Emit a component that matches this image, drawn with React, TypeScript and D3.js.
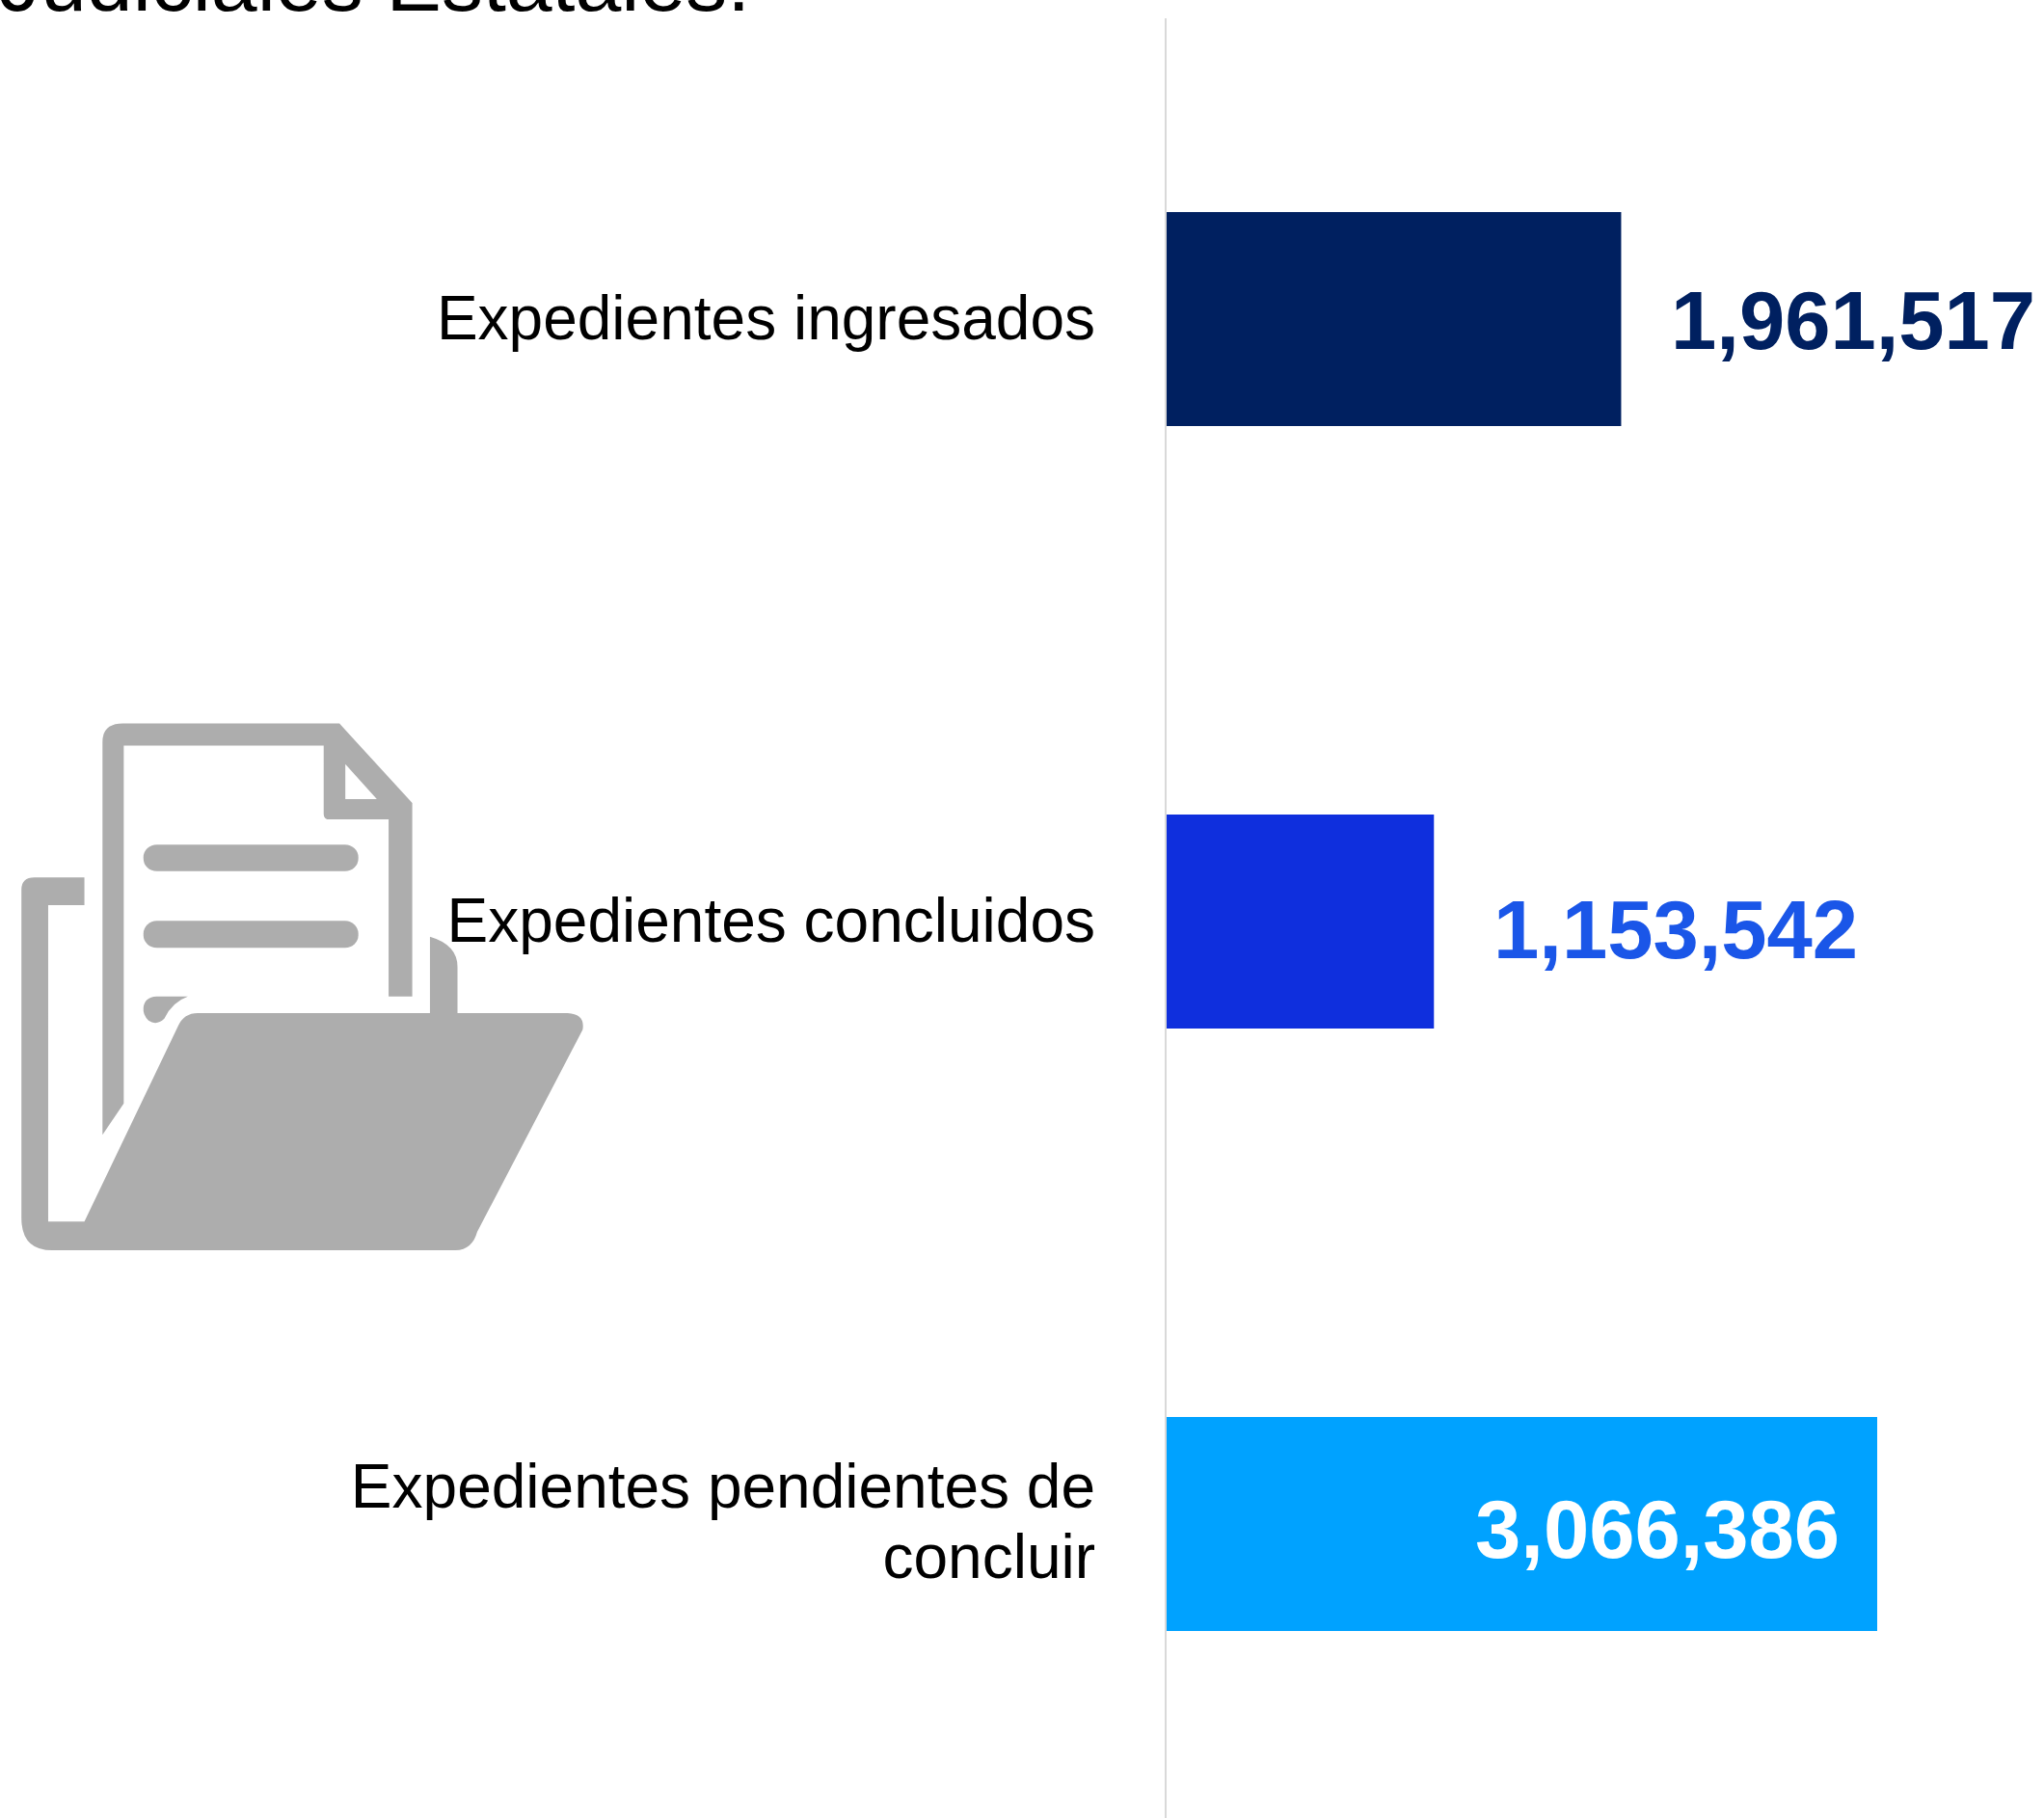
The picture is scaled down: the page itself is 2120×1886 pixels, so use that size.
import React from "react";
import * as d3 from "d3";

const categories = ["Expedientes ingresados", "Expedientes concluidos", "Expedientes pendientes de concluir"];
const labelLines = [["Expedientes ingresados"], ["Expedientes concluidos"], ["Expedientes pendientes de", "concluir"]];
const values = [1961517, 1153542, 3066386];
const barColors = ["#002060", "#0f2fdd", "#00a2ff"];
const valueColors = ["#002060", "#1a56e8", "#ffffff"];
const valueStart = [1733, 1549, 1530];
const valueShift = [31, 38, 35];

const width = 2120;
const height = 1886;
const font = "'Liberation Sans', Arial, sans-serif";
const iconColor = "#adadad";

const docPath =
	"M258 1195 L258 130 Q258 80 310 80 L860 80 L1045 295 L1045 820 L985 820 L985 340 L835 340 Q820 340 820 325 L820 140 L312 140 L312 1110 Z M875 190 L875 285 L955 285 Z";
const stubPath = "M362 850 Q365 822 395 820 L475 820 Q435 835 415 880 Q395 900 375 885 Q360 870 362 850 Z";
const folderPath =
	"M212 497 L85 497 Q52 497 52 530 L52 1420 Q52 1508 130 1508 L1155 1508 Q1198 1506 1210 1458 L1478 910 Q1485 868 1440 865 L1160 865 L1160 740 Q1160 680 1090 658 L1090 865 L500 865 Q465 865 450 900 L212 1430 L120 1430 L120 572 L212 572 Z";

export default function App() {
	const x = d3.scaleLinear().domain([0, d3.max(values) as number]).range([1210, 1947]);
	const y = d3.scaleBand().domain(categories).range([220, 1692]).paddingInner(0.6445).paddingOuter(0);
	const barH = Math.round(y.bandwidth());
	const top = (i: number) => Math.round(y(categories[i]) as number);

	return (
		<svg
			width={width}
			height={height}
			viewBox={`0 0 ${width} ${height}`}
			style={{ position: "absolute", left: 0, top: 0, background: "#fff" }}
			fontFamily={font}
		>
			<text x={-1} y={11} fontSize={86}>Judiciales Estatales:</text>

			<g transform="translate(1,720) scale(0.4082,0.3827)" fill={iconColor}>
				<path d={docPath} fillRule="evenodd" />
				<rect x={362} y={408} width={546} height={72} rx={34} />
				<rect x={362} y={615} width={546} height={73} rx={34} />
				<path d={stubPath} />
				<path d={folderPath} />
			</g>

			<line x1={1209} x2={1209} y1={19} y2={height} stroke="#d9d9d9" strokeWidth={2} />

			{values.map((v, i) => (
				<g key={categories[i]}>
					<rect x={x(0)} y={top(i)} width={x(v) - x(0)} height={barH} fill={barColors[i]} />
					<text
						x={1136}
						y={labelLines[i].length > 1 ? top(i) + 94 : top(i) + 132}
						textAnchor="end"
						fontSize={64}
						fill="#000"
					>
						{labelLines[i].map((l, j) => (
							<tspan key={l} x={1136} dy={j === 0 ? 0 : 73}>{l}</tspan>
						))}
					</text>
					<text
						x={valueStart[i]}
						y={top(i) + barH / 2 + valueShift[i]}
						fontSize={85}
						fontWeight="bold"
						fill={valueColors[i]}
					>
						{d3.format(",")(v)}
					</text>
				</g>
			))}
		</svg>
	);
}
